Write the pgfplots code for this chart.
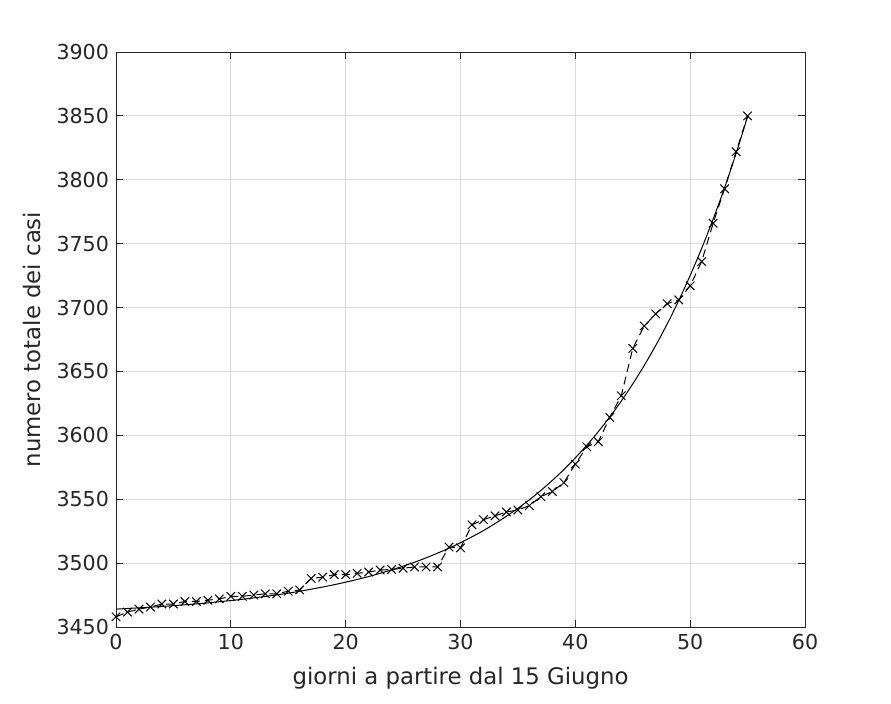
\documentclass[border=0pt]{standalone}
\usepackage{fontspec}
\setmainfont{DejaVu Sans}
\usepackage{pgfplots}
\pgfplotsset{compat=1.18}
\definecolor{txt}{HTML}{262626}
\begin{document}
\begin{tikzpicture}
\begin{axis}[
  name=ax,
  scale only axis,
  width=344.5pt, height=287.5pt,
  xmin=0, xmax=60, ymin=3450, ymax=3900,
  xtick={0,10,...,60},
  ytick={3450,3500,...,3900},
  grid=major,
  major grid style={gray!28, line width=0.4pt},
  tick align=inside,
  major tick length=3.5pt,
  axis line style={txt, line width=0.4pt},
  tick style={txt, line width=0.4pt},
  /pgf/number format/assume math mode=true,
  /pgf/number format/1000 sep={},
  ticklabel style={font=\fontsize{10.3}{12}\selectfont, text=txt},
  label style={font=\fontsize{11.4}{13}\selectfont, text=txt},
  xlabel={giorni a partire dal 15 Giugno},
  ylabel={numero totale dei casi},
  xlabel style={yshift=-2pt},
  ylabel style={yshift=1pt},
]
\addplot[black, line width=0.5pt, dashed, dash pattern=on 4pt off 2.5pt, mark=x, mark size=3pt, mark options={solid}] coordinates {
(0,3458) (1,3461.7) (2,3464) (3,3465.6) (4,3468) (5,3468) (6,3470) (7,3470)
(8,3471) (9,3472) (10,3474) (11,3474) (12,3475) (13,3476) (14,3476) (15,3478)
(16,3479) (17,3488) (18,3489) (19,3491) (20,3491) (21,3492) (22,3493) (23,3494.6)
(24,3495) (25,3496) (26,3497) (27,3497) (28,3497) (29,3512.6) (30,3512) (31,3530)
(32,3534) (33,3537) (34,3540) (35,3541.6) (36,3545) (37,3552) (38,3556) (39,3563)
(40,3577.5) (41,3591) (42,3595) (43,3614) (44,3631) (45,3668) (46,3685.6) (47,3695)
(48,3703) (49,3706) (50,3717) (51,3736) (52,3766) (53,3793) (54,3822) (55,3850)
};
\addplot[black, line width=0.5pt, smooth] coordinates {
(0,3464.0) (1,3464.5) (2,3465.0) (3,3465.5) (4,3466.1) (5,3466.7) (6,3467.4) (7,3468.1)
(8,3468.9) (9,3469.8) (10,3470.7) (11,3471.7) (12,3472.8) (13,3473.9) (14,3475.2) (15,3476.5)
(16,3478.0) (17,3479.6) (18,3481.3) (19,3483.1) (20,3485.1) (21,3487.2) (22,3489.5) (23,3492.0)
(24,3494.7) (25,3497.6) (26,3500.7) (27,3504.1) (28,3507.8) (29,3511.7) (30,3516.0) (31,3520.6)
(32,3525.5) (33,3530.9) (34,3536.7) (35,3542.9) (36,3549.6) (37,3556.9) (38,3564.8) (39,3573.2)
(40,3582.4) (41,3592.3) (42,3602.9) (43,3614.4) (44,3626.8) (45,3640.2) (46,3654.7) (47,3670.3)
(48,3687.2) (49,3705.4) (50,3725.1) (51,3746.3) (52,3769.2) (53,3793.9) (54,3820.6) (55,3849.5)
};
\end{axis}
\path[use as bounding box] ([shift={(-58pt,-38pt)}]ax.south west) rectangle ([shift={(43pt,26pt)}]ax.north east);
\end{tikzpicture}
\end{document}
